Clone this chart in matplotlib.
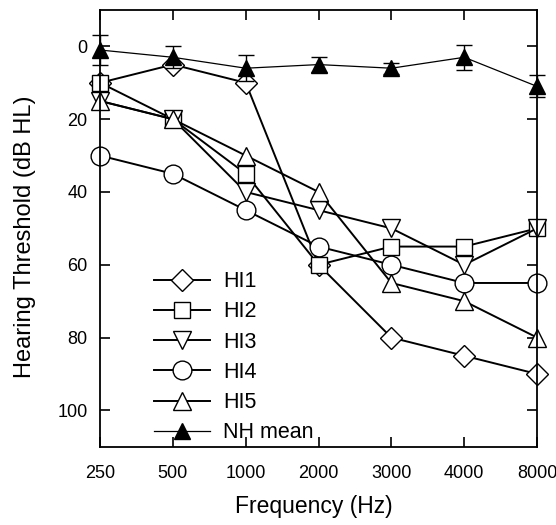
import numpy as np
import matplotlib
matplotlib.use("Agg")
import matplotlib.pyplot as plt
from matplotlib.lines import Line2D

plt.rcParams['font.family'] = ['Liberation Sans', 'DejaVu Sans']

freqs = ['250', '500', '1000', '2000', '3000', '4000', '8000']
hi1 = [10, 5, 10, 60, 80, 85, 90]
hi2 = [10, 20, 35, 60, 55, 55, 50]
hi3 = [15, 20, 40, 45, 50, 60, 50]
hi4 = [30, 35, 45, 55, 60, 65, 65]
hi5 = [15, 20, 30, 40, 65, 70, 80]
nh_mean = [1, 3, 6, 5, 6, 3, 11]
nh_err = [4, 3, 3.5, 2, 1.5, 3.5, 3]

x = np.arange(len(freqs))

fig = plt.figure(figsize=(5.56, 5.25), dpi=100)
ax = fig.add_axes([0.18, 0.149, 0.786, 0.832])

# hearing-impaired listeners
mk = dict(color='black', lw=1.4, mfc='white', mec='black', mew=1.0, clip_on=False)
series = [(hi1, 'D', 11, 'HI1'), (hi2, 's', 11, 'HI2'), (hi3, 'v', 13.5, 'HI3'),
          (hi4, 'o', 13.5, 'HI4'), (hi5, '^', 13.5, 'HI5')]
handles = []
for vals, m, ms, lab in series:
    h, = ax.plot(x, vals, marker=m, ms=ms, label=lab, **mk)
    handles.append(h)

# normal-hearing mean with error bars
ax.errorbar(x, nh_mean, yerr=nh_err, color='black', lw=0.9, marker='^', ms=12,
            mfc='black', mec='black', capsize=6, elinewidth=1.0, capthick=1.0,
            zorder=5, clip_on=False)
handles.append(Line2D([], [], color='black', lw=0.9, marker='^', ms=12,
                      mfc='black', mec='black', label='NH mean'))

ax.set_xlim(0, 6)
ax.set_ylim(110, -10)
ax.set_xticks(x)
ax.set_xticklabels(freqs)
ax.set_yticks([0, 20, 40, 60, 80, 100])
ax.tick_params(direction='in', top=True, right=True, labelsize=13, width=1.2, length=7)
ax.tick_params(axis='y', pad=9)
ax.tick_params(axis='x', pad=13)
for s in ax.spines.values():
    s.set_linewidth(1.3)

ax.set_xlabel('Frequency (Hz)', fontsize=16.5)
ax.xaxis.set_label_coords(0.49, -0.11)
ax.set_ylabel('Hearing Threshold (dB HL)', fontsize=17)
ax.yaxis.set_label_coords(-0.146, 0.48)

ax.legend(handles=handles, loc='lower left', bbox_to_anchor=(0.09, -0.027),
          frameon=False, fontsize=15.5, handlelength=2.6, labelspacing=0.43,
          handletextpad=0.6, borderaxespad=0.3)

fig.savefig('out.png', dpi=100)
